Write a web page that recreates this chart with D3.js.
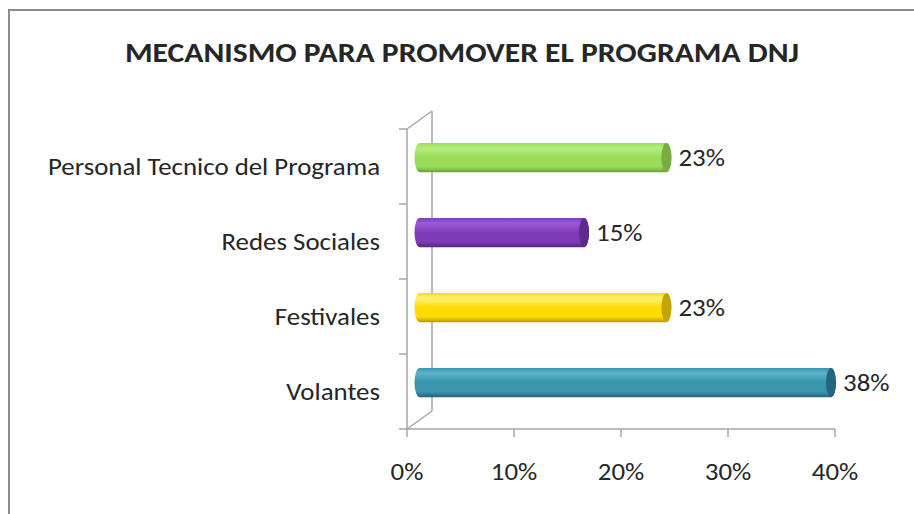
<!DOCTYPE html>
<html>
<head>
<meta charset="utf-8">
<script src="https://cdn.jsdelivr.net/npm/d3@7"></script>
<style>
  body { margin: 0; background: #fff; }
  svg { display: block; }
  text { font-family: Carlito, Calibri, Lato, sans-serif; fill: #262626; }
</style>
</head>
<body>
<svg id="chart-svg" width="914" height="514"></svg>
<script>
// Data
const categories = ['Personal Tecnico del Programa', 'Redes Sociales', 'Festivales', 'Volantes'];
const values = [0.2308, 0.1538, 0.2308, 0.3846];
const value_labels = ['23%', '15%', '23%', '38%'];
const x_ticks = [0, 0.1, 0.2, 0.3, 0.4];
const bar_colors = [
    { light: '#b4ee7c', base: '#98dc58', dark: '#6e9f3c', cap: '#78ab42' },
    { light: '#9a5ad6', base: '#7f3ab8', dark: '#572682', cap: '#5e2a8c' },
    { light: '#fff07a', base: '#ffdc00', dark: '#b89a00', cap: '#c4a400' },
    { light: '#5cb2c8', base: '#3a94ad', dark: '#236077', cap: '#25667e' }
];
const title = 'MECANISMO PARA PROMOVER EL PROGRAMA DNJ';

const svg = d3.select('#chart-svg');

// 3D depth offset of the back wall
const depth_x = 25;
const depth_y = -18;
// the original text is a bit wider than the fallback font
const stretch = 1.12;

const x = d3.scaleLinear().domain([0, 0.4]).range([407, 835]);
const y = d3.scaleBand().domain(categories).range([129, 429]).padding(0);

function place(sel, fx, fy) {
    return sel.attr('transform', (d, i) => 'translate(' + fx(d, i) + ',' + fy(d, i) + ') scale(' + stretch + ',1)');
}

// outer frame
svg.append('rect')
    .attr('x', 9).attr('y', 10)
    .attr('width', 930).attr('height', 530)
    .attr('fill', 'none')
    .attr('stroke', '#8c8c8c')
    .attr('stroke-width', 2);

// title
svg.append('text')
    .attr('transform', 'translate(462,62) scale(1.13,1)')
    .attr('text-anchor', 'middle')
    .attr('font-size', 28)
    .attr('font-weight', 'bold')
    .attr('fill', '#111')
    .text(title);

const axis_color = '#a6a6a6';
const grid = svg.append('g')
    .attr('stroke', axis_color)
    .attr('stroke-width', 1.5)
    .attr('fill', 'none');

const x0 = x(0);
const y_top = y.range()[0];
const y_bot = y.range()[1];

// back wall edge, wall top and floor diagonal
grid.append('line')
    .attr('x1', x0 + depth_x).attr('y1', y_top + depth_y)
    .attr('x2', x0 + depth_x).attr('y2', y_bot + depth_y);
grid.append('line')
    .attr('x1', x0).attr('y1', y_top)
    .attr('x2', x0 + depth_x).attr('y2', y_top + depth_y);
grid.append('line')
    .attr('x1', x0).attr('y1', y_bot)
    .attr('x2', x0 + depth_x).attr('y2', y_bot + depth_y);

// front left axis with ticks
grid.append('line')
    .attr('x1', x0).attr('y1', y_top)
    .attr('x2', x0).attr('y2', y_bot);
const y_tick_pos = categories.map(c => y(c)).concat([y_bot]);
grid.selectAll('.ytick')
    .data(y_tick_pos)
    .join('line')
    .attr('class', 'ytick')
    .attr('x1', x0 - 8).attr('x2', x0)
    .attr('y1', d => d).attr('y2', d => d);

// bottom axis with ticks
grid.append('line')
    .attr('x1', x0).attr('y1', y_bot)
    .attr('x2', x(0.4)).attr('y2', y_bot);
grid.selectAll('.xtick')
    .data(x_ticks)
    .join('line')
    .attr('class', 'xtick')
    .attr('x1', d => x(d)).attr('x2', d => x(d))
    .attr('y1', y_bot).attr('y2', y_bot + 8);

// tick labels
svg.selectAll('.xlabel')
    .data(x_ticks)
    .join('text')
    .attr('class', 'xlabel')
    .call(place, d => x(d), () => 480)
    .attr('text-anchor', 'middle')
    .attr('font-size', 24)
    .text(d3.format('.0%'));

// category labels
svg.selectAll('.ylabel')
    .data(categories)
    .join('text')
    .attr('class', 'ylabel')
    .call(place, () => 380, d => y(d) + y.bandwidth() / 2)
    .attr('dy', '0.35em')
    .attr('text-anchor', 'end')
    .attr('font-size', 24)
    .text(d => d);

// gradients for the cylinders
const defs = svg.append('defs');
bar_colors.forEach((c, i) => {
    const g = defs.append('linearGradient')
        .attr('id', 'cyl' + i)
        .attr('x1', 0).attr('y1', 0).attr('x2', 0).attr('y2', 1);
    g.append('stop').attr('offset', '0%').attr('stop-color', c.base);
    g.append('stop').attr('offset', '18%').attr('stop-color', c.light);
    g.append('stop').attr('offset', '50%').attr('stop-color', c.base);
    g.append('stop').attr('offset', '82%').attr('stop-color', c.base);
    g.append('stop').attr('offset', '100%').attr('stop-color', c.dark);
});

// cylinder bars
const bar_h = y.bandwidth() * 0.39;
const ry = bar_h / 2;
const rx = 5;

const bars = svg.selectAll('.bar')
    .data(categories)
    .join('g')
    .attr('class', 'bar');

bars.append('path')
    .attr('fill', (d, i) => 'url(#cyl' + i + ')')
    .attr('d', (d, i) => {
        const cy = y(d) + y.bandwidth() / 2 + depth_y / 2;
        const left = x(0) + depth_x / 2;
        const right = x(values[i]) + depth_x / 2;
        return 'M' + left + ',' + (cy - ry) +
            'L' + right + ',' + (cy - ry) +
            'A' + rx + ',' + ry + ' 0 0 1 ' + right + ',' + (cy + ry) +
            'L' + left + ',' + (cy + ry) +
            'A' + rx + ',' + ry + ' 0 0 1 ' + left + ',' + (cy - ry) + 'Z';
    });

bars.append('ellipse')
    .attr('cx', (d, i) => x(values[i]) + depth_x / 2)
    .attr('cy', d => y(d) + y.bandwidth() / 2 + depth_y / 2)
    .attr('rx', rx)
    .attr('ry', ry)
    .attr('fill', (d, i) => bar_colors[i].cap);

// value labels
svg.selectAll('.vlabel')
    .data(categories)
    .join('text')
    .attr('class', 'vlabel')
    .call(place, (d, i) => x(values[i]) + depth_x / 2 + rx + 7, d => y(d) + y.bandwidth() / 2 + depth_y / 2)
    .attr('dy', '0.35em')
    .attr('font-size', 24)
    .text((d, i) => value_labels[i]);
</script>
</body>
</html>
